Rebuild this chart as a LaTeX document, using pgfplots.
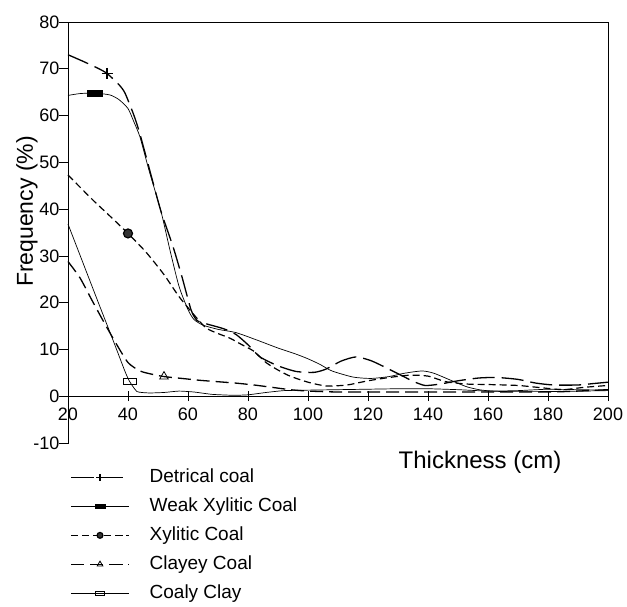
\documentclass[border=0pt]{standalone}
\usepackage{pgfplots}
\pgfplotsset{compat=1.18}
\usepackage{fontspec}
\setmainfont{Liberation Sans}

\pgfplotstableread{
x y
20 73
25 71.6
30 70.1
33 69
37 66.6
39 64.8
42 60
44 56
48 46.5
51 39.5
55 32
58 25.5
61 18.5
63 16.2
66 15.5
72 14.4
76 13.2
80 11
84 8.4
90 6.5
96 5.3
102 5.1
106 5.8
111 7.5
116 8.4
121 7.6
126 6.1
131 4.5
135 3.2
139 2.3
144 2.6
150 3.3
157 3.9
163 4.0
170 3.6
176 2.8
182 2.4
190 2.4
195 2.7
200 3.0
}\detrical

\pgfplotstableread{
x y
20 64.3
24 64.7
29 64.8
34 64.4
37 63.4
40 61.5
42 58.6
44 55.4
47 48.3
51 39.5
54 31.2
57 23.5
60 18.5
62 16.4
65 15.2
70 14.3
76 13.6
83 12
90 10.3
96 9
100 8
104 6.8
108 5.4
115 4.1
121 3.8
127 4.2
132 4.9
138 5.4
142 4.9
148 3.3
153 2.0
158 1.3
165 1.0
180 1.0
200 1.2
}\weakxylitic

\pgfplotstableread{
x y
20 47.3
24 44.7
29 41.5
34 38.5
40 34.8
46 30.8
52 26
57 21.3
62 17.4
66 14.6
70 13.4
74 12.4
78 11
82 9.6
86 7.2
90 5.6
94 4.3
100 3
106 2.2
113 2.4
120 3.3
127 4.0
134 4.5
140 4.3
146 3.1
153 2.6
160 2.5
170 2.3
178 1.8
185 1.4
192 1.9
200 2.3
}\xylitic

\pgfplotstableread{
x y
20 28.8
24 25.3
28 20.5
32 15.8
36 11.3
40 7.2
44 5.4
48 4.7
52 4.2
58 3.8
64 3.4
70 3.1
76 2.8
82 2.4
88 1.9
94 1.4
100 1.1
110 0.9
120 0.9
140 0.9
160 0.9
180 0.9
190 1.1
200 1.4
}\clayey

\pgfplotstableread{
x y
20 36.8
25 28.5
30 20.2
35 12
39 5.3
40.5 3.2
43 1.0
47 0.7
52 0.8
57 1.1
62 0.9
68 0.4
75 0.2
80 0.3
86 0.8
92 1.2
100 1.3
110 1.4
120 1.5
130 1.6
140 1.6
150 1.4
160 1.1
170 1.2
180 1.5
190 1.4
200 1.3
}\coalyclay

\begin{document}
\begin{tikzpicture}
\useasboundingbox (0,0) rectangle (627pt,606pt);
\begin{axis}[
    at={(68pt,163pt)}, anchor=south west,
    scale only axis,
    width=540pt, height=421pt,
    xmin=20, xmax=200, ymin=-10, ymax=80,
    axis y line=left, axis x line=middle,
    axis line style={-, line width=0.8pt},
    hide obscured x ticks=false, hide obscured y ticks=false,
    xtick={20,40,...,200},
    ytick={-10,0,...,80},
    tick align=center,
    major tick length=10pt,
    tick style={black, line width=0.7pt},
    y tick style={xshift=-4pt},
    tick label style={font=\fontsize{18}{20}\selectfont},
    xticklabel style={yshift=-3pt},
    /pgf/number format/assume math mode=true,
    clip=false,
    legend style={draw=none, fill=none,
        at={(axis description cs:0.004,-0.055)}, anchor=north west,
        inner sep=0pt, row sep=7pt, column sep=18pt,
        font=\fontsize{19}{21}\selectfont,
        nodes={inner sep=2pt, text height=14pt, text depth=4pt}},
    legend cell align=left,
    legend image code/.code={
        \draw[#1, mark indices={2}, every mark/.append style={scale=0.65}]
            plot coordinates {(0pt,0pt) (29pt,0pt) (58pt,0pt)};
    },
]
\addplot[black, line width=1.3pt, dash pattern=on 22pt off 7pt, smooth, tension=0.4,
    mark=+, mark size=5.5pt, mark indices={4}, mark options={solid, line width=1.3pt}]
    table[x=x, y=y] {\detrical};
\addlegendentry{Detrical coal}
\addplot[black, line width=0.7pt, smooth, tension=0.4,
    mark=square*, mark size=3pt, mark indices={3}, mark options={solid, fill=black, xscale=2.5}]
    table[x=x, y=y] {\weakxylitic};
\addlegendentry{Weak Xylitic Coal}
\addplot[black, line width=1.2pt, dash pattern=on 7pt off 4pt, smooth, tension=0.4,
    mark=*, mark size=4.5pt, mark indices={5}, mark options={solid, fill=black!80}]
    table[x=x, y=y] {\xylitic};
\addlegendentry{Xylitic Coal}
\addplot[black, line width=1.3pt, dash pattern=on 13pt off 6pt, smooth, tension=0.4,
    mark=triangle, mark size=5pt, mark indices={9}, mark options={solid, fill=white, line width=0.8pt}]
    table[x=x, y=y] {\clayey};
\addlegendentry{Clayey Coal}
\addplot[black, line width=0.7pt, smooth, tension=0.3,
    mark=square, mark size=3pt, mark indices={6}, mark options={solid, fill=white, xscale=2.2, line width=0.7pt}]
    table[x=x, y=y] {\coalyclay};
\addlegendentry{Coaly Clay}
\draw[line width=0.8pt] (axis cs:20,80) -- (axis cs:200,80) -- (axis cs:200,0);
\node[rotate=90, font=\fontsize{23}{25}\selectfont] at (axis description cs:-0.076,0.55) {Frequency (\%)};
\node[font=\fontsize{24}{26}\selectfont] at (axis description cs:0.763,-0.045) {Thickness (cm)};
\end{axis}
\end{tikzpicture}
\end{document}
